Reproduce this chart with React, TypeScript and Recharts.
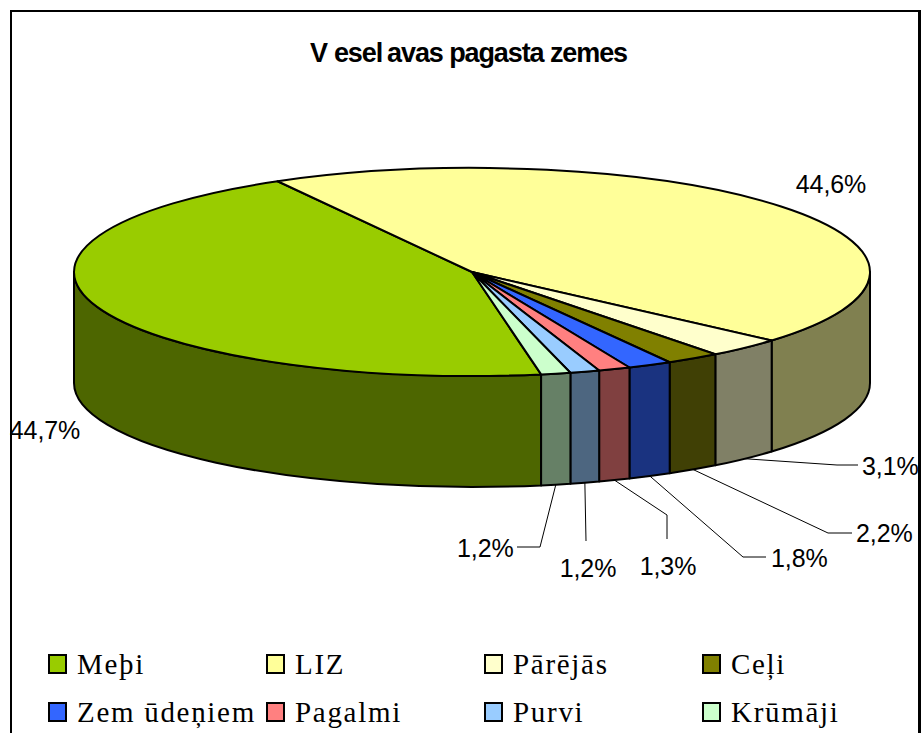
import { Legend, Pie, PieChart } from "recharts";

// values, in the order of the legend
const categories = ["Meþi", "LIZ", "Pārējās", "Ceļi", "Zem ūdeņiem", "Pagalmi", "Purvi", "Krūmāji"];
const shares = [44.7, 44.6, 3.1, 2.2, 1.8, 1.3, 1.2, 1.2];
const topColors = ["#99CC00", "#FFFF99", "#FFFFCC", "#808000", "#3366FF", "#FF8080", "#99CCFF", "#CCFFCC"];
const wallColors = ["#4D6600", "#808050", "#808066", "#404005", "#1A3380", "#804040", "#4D6680", "#668066"];

const data = categories.map((name, i) => ({
  name,
  value: shares[i],
  fill: topColors[i],
  wall: wallColors[i],
}));

// the 3D look: how flat the disc is and how thick the wall
const FLATTEN = 104 / 398;
const DEPTH = 111;

// where each percentage goes: text position, and elbow points for the leader lines
const labelSpots: { x: number; y: number; anchor: "start" | "middle"; leader?: number[][] }[] = [
  { x: 45, y: 430, anchor: "middle" },
  { x: 831, y: 184, anchor: "middle" },
  { x: 862, y: 466, anchor: "start", leader: [[837, 465], [858, 465]] },
  { x: 856, y: 533, anchor: "start", leader: [[828, 533], [852, 533]] },
  { x: 771, y: 558, anchor: "start", leader: [[743, 557], [766, 557]] },
  { x: 668, y: 566, anchor: "middle", leader: [[667, 515], [667, 539]] },
  { x: 588, y: 568, anchor: "middle", leader: [[586, 541]] },
  { x: 457, y: 548, anchor: "start", leader: [[540, 547], [517, 547]] },
];

const rad = (deg: number) => (deg * Math.PI) / 180;

function rimPoint(cx: number, cy: number, r: number, deg: number) {
  return { x: cx + r * Math.cos(rad(deg)), y: cy - r * FLATTEN * Math.sin(rad(deg)) };
}

function PieSlice(props: any) {
  const { cx, cy, outerRadius: r, startAngle, endAngle, fill, payload } = props;
  const hi = Math.max(startAngle, endAngle);
  const lo = Math.min(startAngle, endAngle);
  const ry = r * FLATTEN;
  const a = rimPoint(cx, cy, r, hi);
  const b = rimPoint(cx, cy, r, lo);
  const large = hi - lo > 180 ? 1 : 0;
  const top = `M${cx},${cy} L${a.x},${a.y} A${r},${ry} 0 ${large} 1 ${b.x},${b.y} Z`;

  // only the part of the rim facing the viewer gets a wall
  const walls: string[] = [];
  for (let k = 0; k < 3; k++) {
    const from = Math.min(hi, -360 * k);
    const to = Math.max(lo, -180 - 360 * k);
    if (from <= to) continue;
    const p = rimPoint(cx, cy, r, from);
    const q = rimPoint(cx, cy, r, to);
    walls.push(
      `M${p.x},${p.y} A${r},${ry} 0 0 1 ${q.x},${q.y} L${q.x},${q.y + DEPTH} A${r},${ry} 0 0 0 ${p.x},${p.y + DEPTH} Z`,
    );
  }

  return (
    <g>
      {walls.map((d) => (
        <path key={d} d={d} fill={payload?.wall ?? props.wall} stroke="#000" strokeWidth={2} strokeLinejoin="round" />
      ))}
      <path d={top} fill={fill} stroke="#000" strokeWidth={2} strokeLinejoin="round" />
    </g>
  );
}

function PercentLabel(props: any) {
  const { cx, cy, outerRadius: r, midAngle, index, value } = props;
  const spot = labelSpots[index];
  const rim = rimPoint(cx, cy, r, midAngle);
  const points = spot.leader ? [[rim.x, rim.y + DEPTH], ...spot.leader] : [];
  return (
    <g>
      {points.length > 0 && <polyline points={points.map((p) => p.join(",")).join(" ")} fill="none" stroke="#000" strokeWidth={1} />}
      <text
        x={spot.x}
        y={spot.y}
        textAnchor={spot.anchor}
        dominantBaseline="central"
        fontFamily="'Liberation Sans', Arial, sans-serif"
        fontSize={25}
        letterSpacing={-0.1}
        fill="#000"
      >
        {String(value).replace(".", ",")}%
      </text>
    </g>
  );
}

function LegendGrid({ payload }: any) {
  return (
    <div style={{ display: "grid", gridTemplateColumns: "repeat(4, 218px)", gridAutoRows: "48px" }}>
      {(payload ?? []).map((item: any) => (
        <div key={item.value} style={{ display: "flex", alignItems: "center", height: 20 }}>
          <span
            style={{
              width: 15,
              height: 16,
              background: item.color,
              border: "2px solid #000",
              marginRight: 10,
              flex: "none",
            }}
          />
          <span
            style={{
              fontFamily: "'Liberation Serif', 'Times New Roman', serif",
              fontSize: 29,
              letterSpacing: 1.7,
              lineHeight: "20px",
              whiteSpace: "nowrap",
              color: "#000",
            }}
          >
            {item.value}
          </span>
        </div>
      ))}
    </div>
  );
}

export default function App() {
  return (
    <div style={{ position: "absolute", left: 0, top: 0, width: 921, height: 733, overflow: "hidden", background: "#fff" }}>
      <div
        style={{
          position: "absolute",
          left: 10,
          top: 10,
          width: 906,
          height: 740,
          borderLeft: "2px solid #000",
          borderTop: "2px solid #000",
          borderRight: "3px solid #000",
        }}
      />
      <div
        style={{
          position: "absolute",
          left: 0,
          width: 937,
          top: 38,
          textAlign: "center",
          fontFamily: "'Liberation Sans', Arial, sans-serif",
          fontWeight: 700,
          fontSize: 27,
          letterSpacing: -1.1,
          lineHeight: "30px",
          color: "#000",
        }}
      >
        <span style={{ marginRight: 7 }}>V</span>esel<span style={{ marginLeft: 5 }}>avas pagasta zemes</span>
      </div>
      <div style={{ position: "absolute", left: 0, top: 0 }}>
        <PieChart width={921} height={733} margin={{ top: 0, right: 0, bottom: 0, left: 0 }}>
          <Pie
            data={data}
            dataKey="value"
            nameKey="name"
            cx={472}
            cy={272}
            outerRadius={398}
            startAngle={-80}
            endAngle={-440}
            isAnimationActive={false}
            shape={PieSlice}
            label={PercentLabel}
            labelLine={false}
          />
          <Legend
            content={LegendGrid}
            itemSorter={null}
            wrapperStyle={{ position: "absolute", left: 48, top: 654, width: 872, height: 70, bottom: "auto" }}
          />
        </PieChart>
      </div>
    </div>
  );
}
